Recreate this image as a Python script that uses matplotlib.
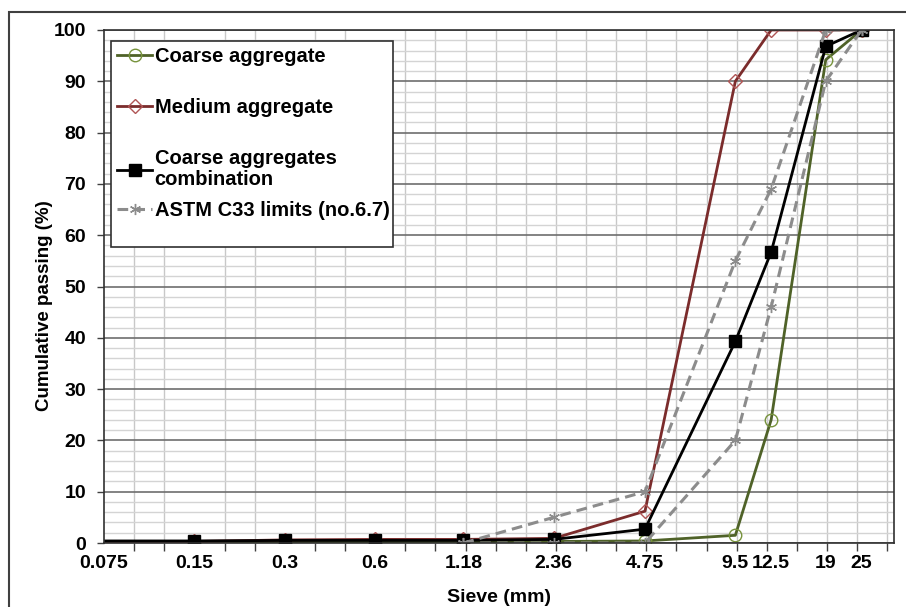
import numpy as np
import matplotlib.pyplot as plt
from matplotlib.patches import Rectangle
from matplotlib.lines import Line2D
from matplotlib.ticker import FixedLocator, NullFormatter, MultipleLocator

plt.rcParams['font.family'] = ['Liberation Sans', 'DejaVu Sans']
plt.rcParams['font.weight'] = 'bold'

# sieve sizes (mm) and labels
sieve = [0.075, 0.15, 0.3, 0.6, 1.18, 2.36, 4.75, 9.5, 12.5, 19, 25]
sieve_labels = ['0.075', '0.15', '0.3', '0.6', '1.18', '2.36', '4.75',
                '9.5', '12.5', '19', '25']

# cumulative passing (%)
coarse = [0.1, 0.1, 0.1, 0.1, 0.1, 0.3, 0.4, 1.5, 24.0, 94.2, 100]
medium = [0.3, 0.3, 0.6, 0.7, 0.7, 0.9, 6.2, 90.0, 100, 100, 100]
combination = [0.4, 0.4, 0.5, 0.5, 0.5, 0.7, 2.7, 39.3, 56.7, 96.8, 100]
astm_upper = [np.nan, np.nan, np.nan, np.nan, 0, 5, 10, 55, 69, 100, 100]
astm_lower = [np.nan, np.nan, np.nan, np.nan, 0, 0, 0, 20, 46, 90, 100]

FS_TICK = 14
FS_LEG = 14.5
c_green = '#4f6228'
c_red = '#7b2c2c'
c_gray = '#8c8c8c'

# line styles shared by plot and legend
st_coarse = dict(color=c_green, lw=2, marker='o', ms=9, mfc='none', mec='#77933c', mew=1)
st_medium = dict(color=c_red, lw=2, marker='D', ms=7, mfc='none', mec='#b05555', mew=1)
st_comb = dict(color='black', lw=2, marker='s', ms=9)
st_astm = dict(color=c_gray, lw=2.2, dashes=(3.5, 2), marker=(6, 2, 0), ms=8, mew=1)

fig = plt.figure(figsize=(9.06, 6.07), dpi=100)
ax = fig.add_axes([104 / 906, 1 - 543 / 607, 790 / 906, 513 / 607])

ax.set_xscale('log', base=2)
ax.set_xlim(0.075, 0.075 * 2 ** 8.74)
ax.set_ylim(0, 100)

# gridlines every third of a doubling
grid_x = [0.075 * 2 ** (k / 3) for k in range(27)]
ax.xaxis.set_minor_locator(FixedLocator(grid_x))
ax.xaxis.set_minor_formatter(NullFormatter())
ax.set_xticks(sieve)
ax.set_xticklabels(sieve_labels)
ax.tick_params(axis='x', which='major', length=0, pad=8.5, labelsize=FS_TICK)
ax.tick_params(axis='x', which='minor', length=6, width=1, color='#404040')

ax.set_yticks(range(0, 101, 10))
ax.yaxis.set_minor_locator(MultipleLocator(2))
ax.tick_params(axis='y', which='major', length=5, width=1, pad=8,
               labelsize=FS_TICK, color='#404040')
ax.tick_params(axis='y', which='minor', length=0)

ax.set_axisbelow(True)
ax.grid(which='minor', axis='x', color='#c8c8c8', lw=1)
ax.grid(which='minor', axis='y', color='#d4d4d4', lw=1)
ax.grid(which='major', axis='y', color='#6e6e6e', lw=1.2)
for s in ax.spines.values():
    s.set_color('#303030')
    s.set_linewidth(1.2)

# no marker shown at the first sieve (left edge)
skip = slice(1, None)
ax.plot(sieve, coarse, markevery=skip, **st_coarse)
ax.plot(sieve, medium, markevery=skip, **st_medium)
ax.plot(sieve, combination, markevery=skip, **st_comb)
for band in (astm_upper, astm_lower):
    ax.plot(sieve, band, **st_astm)

# legend box
box = Rectangle((7 / 790, (543 - 247) / 513), 282 / 790, 206 / 513,
                transform=ax.transAxes, fc='white', ec='#303030', lw=1.2, zorder=4)
ax.add_patch(box)

leg_kw = dict(loc='upper left', frameon=False, fontsize=FS_LEG, handlelength=1.75,
              handletextpad=0.12, borderpad=0, borderaxespad=0)
leg1 = ax.legend([Line2D([], [], **st_coarse), Line2D([], [], **st_medium),
                  Line2D([], [], **st_comb)],
                 ['Coarse aggregate', 'Medium aggregate',
                  'Coarse aggregates\ncombination'],
                 bbox_to_anchor=(13 / 790, (543 - 47) / 513),
                 labelspacing=1.6, **leg_kw)
for t in leg1.get_texts():
    t.set_linespacing(1.1)
ax.add_artist(leg1)
ax.legend([Line2D([], [], **st_astm)], ['ASTM C33 limits (no.6.7)'],
          bbox_to_anchor=(13 / 790, (543 - 201) / 513), **leg_kw)

fig.text(45 / 906, 1 - 306 / 607, 'Cumulative passing (%)', rotation=90,
         ha='center', va='center', fontsize=13.5)
fig.text(499 / 906, 1 - 597 / 607, 'Sieve (mm)', ha='center', va='center',
         fontsize=14)

# outer chart frame
fig.patches.append(Rectangle((9 / 906, -0.1), 1.2, 1 - 12 / 607 + 0.1,
                             transform=fig.transFigure, fill=False,
                             ec='#404040', lw=1.5))

fig.savefig('out.png', dpi=100)
